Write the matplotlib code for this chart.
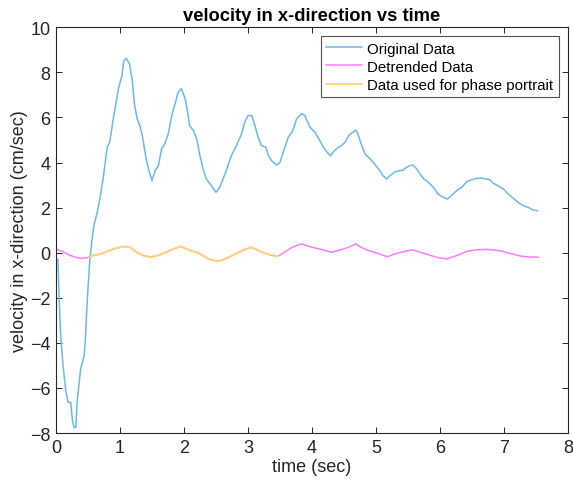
import numpy as np
import matplotlib
matplotlib.use("Agg")
import matplotlib.pyplot as plt

plt.rcParams['font.family'] = ['Liberation Sans', 'DejaVu Sans']

# original x-velocity
t_orig = [0.0, 0.03, 0.05, 0.07, 0.11, 0.15, 0.19, 0.23, 0.255, 0.28, 0.31, 0.33,
          0.385, 0.44, 0.46, 0.49, 0.53, 0.57, 0.6, 0.645, 0.69, 0.74, 0.80, 0.84,
          0.895, 0.975, 1.03, 1.06, 1.10, 1.15, 1.19, 1.23, 1.27, 1.31, 1.35, 1.41,
          1.46, 1.50, 1.55, 1.60, 1.65, 1.70, 1.755, 1.81, 1.86, 1.91, 1.96, 2.02,
          2.05, 2.09, 2.15, 2.20, 2.25, 2.30, 2.35, 2.43, 2.50, 2.56, 2.61, 2.67,
          2.74, 2.82, 2.90, 2.95, 3.00, 3.06, 3.11, 3.16, 3.21, 3.28, 3.32, 3.37,
          3.45, 3.50, 3.55, 3.63, 3.70, 3.76, 3.84, 3.89, 3.97, 4.05, 4.11, 4.18,
          4.24, 4.29, 4.33, 4.39, 4.46, 4.52, 4.58, 4.64, 4.68, 4.71, 4.76, 4.83,
          4.91, 4.98, 5.06, 5.11, 5.17, 5.22, 5.30, 5.375, 5.43, 5.48, 5.53, 5.58,
          5.64, 5.69, 5.75, 5.82, 5.90, 5.97, 6.05, 6.12, 6.18, 6.26, 6.34, 6.42,
          6.50, 6.57, 6.65, 6.73, 6.78, 6.83, 6.91, 6.99, 7.07, 7.15, 7.22, 7.30,
          7.38, 7.46, 7.52]
v_orig = [-0.25, -0.3, -2.05, -3.5, -5.0, -6.05, -6.64, -6.64, -7.38, -7.75, -7.75, -6.64,
          -5.16, -4.57, -3.83, -2.05, -0.28, 0.75, 1.3, 1.79, 2.45, 3.35, 4.68, 4.9,
          5.93, 7.26, 7.85, 8.52, 8.62, 8.37, 7.7, 6.52, 5.93, 5.63, 5.19, 4.16,
          3.57, 3.19, 3.64, 3.86, 4.6, 4.82, 5.27, 6.08, 6.6, 7.12, 7.28, 6.82,
          6.38, 5.63, 5.41, 5.04, 4.3, 3.71, 3.27, 2.97, 2.68, 2.9, 3.27, 3.71,
          4.3, 4.75, 5.27, 5.79, 6.08, 6.08, 5.63, 5.12, 4.75, 4.68, 4.3, 4.08,
          3.89, 4.0, 4.45, 5.12, 5.41, 5.93, 6.18, 6.08, 5.56, 5.34, 5.04, 4.68,
          4.45, 4.30, 4.45, 4.63, 4.75, 4.9, 5.22, 5.34, 5.44, 5.34, 4.9, 4.38,
          4.16, 3.94, 3.64, 3.42, 3.27, 3.42, 3.59, 3.64, 3.67, 3.79, 3.86, 3.89,
          3.71, 3.49, 3.27, 3.12, 2.9, 2.6, 2.46, 2.38, 2.53, 2.75, 2.9, 3.15,
          3.24, 3.30, 3.31, 3.27, 3.24, 3.09, 2.97, 2.83, 2.6, 2.41, 2.24, 2.09,
          2.01, 1.89, 1.86]

# detrended velocity
t_detr = [0.0, 0.1, 0.2, 0.3, 0.4, 0.49, 0.53, 0.6, 0.7, 0.82, 0.95, 1.09, 1.16,
          1.26, 1.37, 1.48, 1.58, 1.72, 1.83, 1.95, 2.03, 2.1, 2.2, 2.3, 2.39,
          2.52, 2.6, 2.7, 2.82, 2.93, 3.05, 3.12, 3.22, 3.34, 3.47, 3.57, 3.67,
          3.80, 3.84, 3.97, 4.125, 4.31, 4.49, 4.59, 4.69, 4.75, 4.85, 5.01, 5.18,
          5.32, 5.45, 5.58, 5.69, 5.82, 5.95, 6.10, 6.26, 6.42, 6.57, 6.73, 6.94,
          7.09, 7.28, 7.41, 7.54]
v_detr = [0.16, 0.06, -0.09, -0.2, -0.25, -0.22, -0.17, -0.1, -0.06, 0.09, 0.21, 0.28, 0.24,
          0.02, -0.13, -0.2, -0.13, 0.02, 0.16, 0.28, 0.18, 0.1, 0.02, -0.13, -0.28,
          -0.38, -0.32, -0.2, -0.03, 0.12, 0.24, 0.16, 0.02, -0.09, -0.16, 0.02, 0.21,
          0.36, 0.39, 0.27, 0.16, 0.02, 0.16, 0.27, 0.39, 0.27, 0.13, -0.01, -0.18,
          -0.03, 0.06, 0.13, 0.02, -0.09, -0.2, -0.28, -0.13, 0.06, 0.13, 0.15, 0.09,
          -0.03, -0.16, -0.19, -0.2]

# part of the detrended data used for the phase portrait
phase_start = 0.53
phase_end = 3.47

t_detr = np.array(t_detr)
v_detr = np.array(v_detr)
sel = (t_detr >= phase_start) & (t_detr <= phase_end)

fig = plt.figure(figsize=(5.73, 4.85), dpi=100)
ax = fig.add_axes([0.0977, 0.105, 0.8933, 0.8367])

ax.plot(t_orig, v_orig, color='#6cb9e8', lw=1.1, label='Original Data')
ax.plot(t_detr, v_detr, color='#ff7cff', lw=1.1, label='Detrended Data')
ax.plot(t_detr[sel], v_detr[sel], color='#ffd57a', lw=1.4, label='Data used for phase portrait')

ax.set_xlim(0, 8)
ax.set_ylim(-8, 10)
ax.set_xticks(range(0, 9))
ax.set_yticks(range(-8, 11, 2))
ax.tick_params(direction='in', top=True, right=True, labelsize=13,
               colors='#262626', length=4, width=0.7, pad=4)
for sp in ax.spines.values():
    sp.set_color('#262626')
    sp.set_linewidth(0.8)

ax.set_title('velocity in x-direction vs time', fontsize=13.2, fontweight='bold', pad=5)
ax.set_xlabel('time (sec)', fontsize=13, color='#262626', labelpad=2)
ax.set_ylabel('velocity in x-direction (cm/sec)', fontsize=13, color='#262626', labelpad=1)

leg = ax.legend(loc='upper right', fontsize=10.8, frameon=True, fancybox=False,
                edgecolor='#262626', borderaxespad=0.6, handlelength=2.4,
                handletextpad=0.35, labelspacing=0.28, borderpad=0.35)
leg.get_frame().set_linewidth(0.8)

fig.savefig('out.png', dpi=100)
